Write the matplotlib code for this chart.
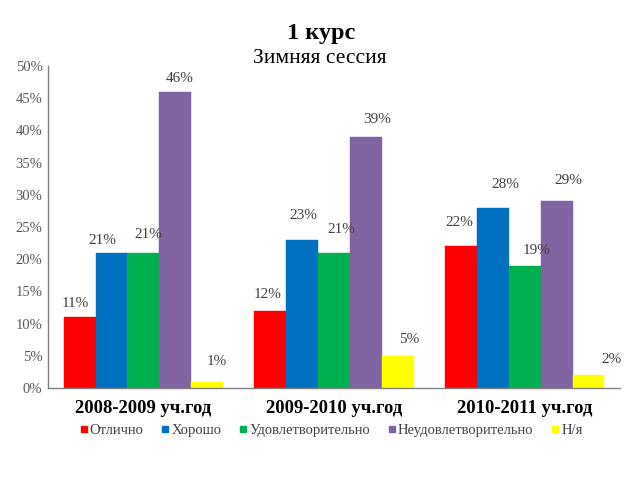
import matplotlib
matplotlib.use("Agg")
import matplotlib.pyplot as plt
import numpy as np
from matplotlib.lines import Line2D

years = ["2008-2009 уч.год", "2009-2010 уч.год", "2010-2011 уч.год"]
series = ["Отлично", "Хорошо", "Удовлетворительно", "Неудовлетворительно", "Н/я"]
otlichno = [11, 12, 22]
horosho = [21, 23, 28]
udovl = [21, 21, 19]
neudovl = [46, 39, 29]
nya = [1, 5, 2]
values = [otlichno, horosho, udovl, neudovl, nya]
colors = ["#FF0000", "#0070C0", "#00B050", "#8064A2", "#FFFF00"]
yticks = [0, 5, 10, 15, 20, 25, 30, 35, 40, 45, 50]

# label placement tweaks (pixels, dx, dy) per series / year, as in the original slide
label_dx = [[-4, -2.5, -1.5], [-9, 1, 12], [5, 7, 12], [4.5, 11, 12], [10, 11, 23]]
label_dy = [[14, 16, 24], [12, 24, 23], [18, 23, 15], [13, 17, 21], [20, 16, 16]]

plt.rcParams['font.family'] = ['Liberation Serif', 'DejaVu Serif']

fig = plt.figure(figsize=(6.4, 4.8), dpi=100)
ax = fig.add_axes([0.075, 0.1917, 0.894, 0.6708])

x = np.arange(len(years))
w = 0.167
for i, (s, v, c) in enumerate(zip(series, values, colors)):
    pos = x - 2 * w + i * w
    ax.bar(pos, v, width=w, color=c, edgecolor=c, linewidth=0.3, label=s)
    for j, (px, val) in enumerate(zip(pos, v)):
        ax.annotate(f"{val}%", xy=(px, val),
                    xytext=(label_dx[i][j] * 0.72, label_dy[i][j] * 0.72),
                    textcoords='offset points', ha='center', va='center',
                    fontsize=11, color='#404040')

ax.set_xlim(-0.5, 2.5)
ax.set_ylim(0, 50)
ax.set_yticks(yticks)
ax.set_yticklabels([f"{t}%" for t in yticks], fontsize=10.5, color='#595959')
ax.set_xticks(x)
ax.set_xticklabels(years, fontsize=13.4, fontweight='bold')
ax.tick_params(axis='y', length=0, pad=4)
ax.tick_params(axis='x', length=0, pad=9)
for sp in ['top', 'right']:
    ax.spines[sp].set_visible(False)
for sp in ['left', 'bottom']:
    ax.spines[sp].set_color('#808080')
    ax.spines[sp].set_linewidth(1)

fig.text(0.502, 0.931, "1 курс", ha='center', va='center', fontsize=17.5, fontweight='bold')
fig.text(0.5, 0.879, "Зимняя сессия", ha='center', va='center', fontsize=15.5)

handles = [Line2D([0], [0], marker='s', color='none', markerfacecolor=c,
                  markeredgecolor=c, markersize=4) for c in colors]
leg = fig.legend(handles, series, loc='center', bbox_to_anchor=(0.517, 0.104),
                 ncol=5, frameon=False, fontsize=10.5, handlelength=0.6,
                 handletextpad=0.11, columnspacing=1.2)
for t in leg.get_texts():
    t.set_color('#404040')

fig.savefig("out.png", dpi=100)
